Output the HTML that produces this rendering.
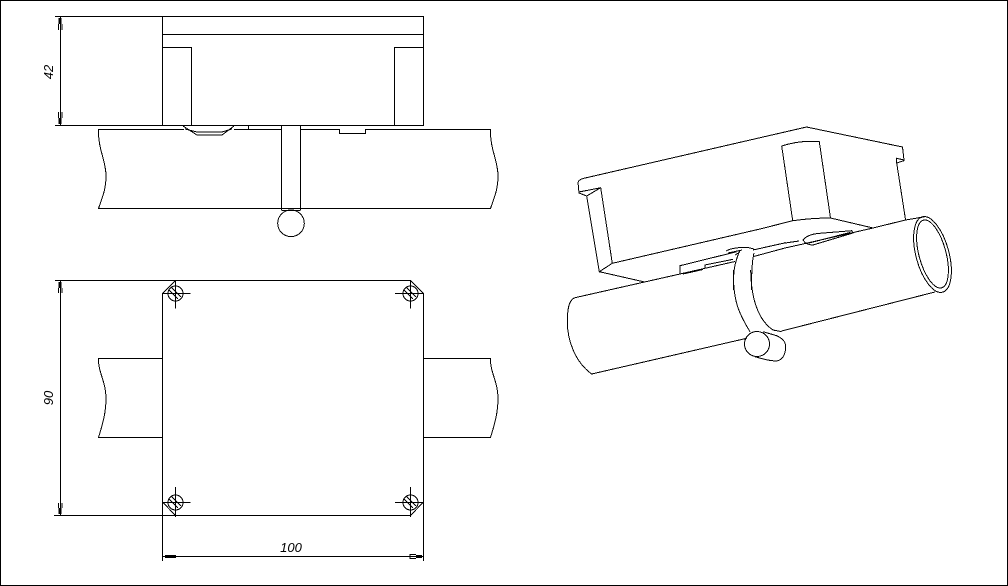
<!DOCTYPE html>
<html>
<head>
<meta charset="utf-8">
<style>
html,body{margin:0;padding:0;background:#fff;width:1008px;height:586px;overflow:hidden}
svg{display:block}
text{font-family:"Liberation Sans",sans-serif;font-style:italic;font-size:13px;fill:#000}
</style>
</head>
<body>
<svg width="1008" height="586" viewBox="0 0 1008 586" xmlns="http://www.w3.org/2000/svg">
<g fill="none" stroke="#000" stroke-width="1" shape-rendering="crispEdges">
<rect x="0.5" y="0.5" width="1007" height="585"/>

<!-- front view -->
<path d="M55 16.5H423.5V125.5H55"/>
<path d="M162.5 16.5V125.5M162.5 34.5H423.5"/>
<path d="M162.5 47.5H191.5V125.5M423.5 47.5H394.5V125.5"/>
<path d="M60.5 16.5V125.5"/>
<path d="M106 176C106 160 98 150 98.500 129.500H184M234 129.500H281.500M300.500 129.500H339.500V133.500H365.500V129.500H490.500C490 150 498 160 498 176C498 190 494 198 490.500 208.500H98.500C102 198 106 190 106 176"/>
<path d="M183 126L197 135H222L234 126M185 129L197 132H222L232 129M248.500 125.500V129.500"/>
<path d="M281.500 125.500V210M300.500 125.500V210M281.500 210.500H300.500"/>
<circle cx="291" cy="223.300" r="13.300"/>

<!-- plan view -->
<path d="M55 280.500H410.500L423.500 293.500V561M162.500 561V502L175.500 515.500M162.500 502V293.500L175.500 280.500"/>
<path d="M54 515.500H410.500L423.500 502"/>
<path d="M60.500 280.500V515.500"/>
<path d="M162.500 556.500H423.500"/>
<path d="M162.500 358.500H98.500C98 372 106 382 106 398C106 414 102 426 98.500 437.500H162.500"/>
<path d="M423.500 358.500H490.500C490 372 498 382 498 398C498 414 494 426 490.500 437.500H423.500"/>

<!-- bolts -->
<g><circle cx="175.500" cy="293.500" r="7.500"/><path d="M162 293.500H190.500M175.500 280V308.500M171 287L181 297M169 290L178 299"/></g>
<g><circle cx="410.500" cy="293.500" r="7.500"/><path d="M395 293.500H424M410.500 280V308.500M406 287L416 297M404 290L413 299"/></g>
<g><circle cx="175.500" cy="502.500" r="7.500"/><path d="M162 502.500H190.500M175.500 487V517M171 496L181 506M169 499L178 508"/></g>
<g><circle cx="410.500" cy="502.500" r="7.500"/><path d="M395 502.500H424M410.500 487V517M406 496L416 506M404 499L413 508"/></g>

<!-- isometric view -->
<path d="M578 183Q578 180 583 178.500L806.500 127L902.500 147L904 160L896.700 158.300V163L905.500 219.500"/>
<path d="M896.700 163L904.500 160.500"/>
<path d="M578 182L579 193L586.700 196L600.700 187.700L612.300 263.300L760 229L792.700 220.700Q812 218 830.500 218L873 228"/>
<path d="M579 192L600.700 187.700M586.700 196L599.300 271.700L612.300 263.300M599.300 271.700L643.300 281.700"/>
<path d="M781.700 146L792.700 220.700M819.300 141.700L830.500 218M781.700 146Q800 140 819.300 141.700"/>
<path d="M591.700 374C575 362 567 340 567.300 320C567.500 306 570 298 576.700 297.300L680 274L705 268.300L735 261.500"/>
<path d="M680 274V265.700L736.700 251.700M705 268.300V265L733 259.300M683 274L703 269.500"/>
<path d="M726 251Q733 247 748 247.500L754 249M728 253L742 250M735 255L740 252"/>
<path d="M753 256.700L785 248L803 244L873 228L905.500 220L925 216.700"/>
<path d="M753 250L783 243.300L799 241M785 243.300V242"/>
<path d="M803 240Q808 234 820 233.300L851.700 230.700L853 233L813 245Q806 245 803 240ZM809 243L850 232.500"/>
<path d="M733.300 290C733 270 735 262 740 250M751.700 290C751.500 270 752 262 754 253"/>
<path d="M733.300 270C733 300 738 312 750 331.700M750.700 270C751 298 758 320 773 330L781.700 331.700"/>
<path d="M781.700 331L935 292"/>
<path d="M591.700 374L746.700 338.300"/>
<ellipse cx="932.500" cy="254.500" rx="16.500" ry="39" transform="rotate(-15 932.500 254.500)"/>
<ellipse cx="932.500" cy="254" rx="13.500" ry="35" transform="rotate(-15 932.500 254)"/>
<circle cx="757" cy="344" r="12.500"/>
<path d="M763 331.700L776.700 335.700C784 339 786 343 785.700 348C785 356 782 360 776.700 361C768 361 760 358 755 356.700"/>
</g>

<!-- arrowheads -->
<g fill="none" stroke="#000" shape-rendering="crispEdges">
<path stroke-width="3" d="M60 18V24M60 124V118M60 282V288M60 514V508M165 556.500H176M422 556.500H416"/>
<path stroke-width="1" d="M58.500 24V30M62 24V30M58.500 118V112M62 118V112M58.500 288V293M62 288V293M58.500 508V503M62 508V503M416 554.500H410V558.500H416"/>
</g>

<!-- labels -->
<text x="291" y="552" text-anchor="middle">100</text>
<text transform="translate(53 72) rotate(-90)" text-anchor="middle">42</text>
<text transform="translate(53 398) rotate(-90)" text-anchor="middle">90</text>
</svg>
</body>
</html>
